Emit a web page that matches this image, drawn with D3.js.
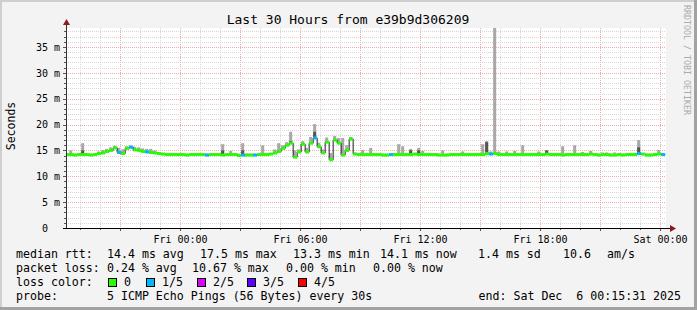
<!DOCTYPE html>
<html>
<head>
<meta charset="utf-8">
<script src="https://cdn.jsdelivr.net/npm/d3@7"></script>
<style>
  body { margin: 0; background: #f3f3f3; }
  text { font-family: "DejaVu Sans Mono", monospace; white-space: pre; }
</style>
</head>
<body>
<script>
// 12 minute steps, Thu 18:15:31 -> Sat 00:15:31 (UTC)
var startTime = Date.UTC(2025, 11, 4, 18, 15, 31),
    endTime = Date.UTC(2025, 11, 6, 0, 15, 31),
    stepMs = 12 * 60 * 1000;

// median rtt per step (ms)
var median = [
  14.2,14.2,14.1,14.2,14.2,14.2,14.1,14.2,
  14.4,14.5,14.8,15.0,15.5,14.6,14.4,15.4,15.6,15.1,15.0,14.8,14.7,14.6,14.5,14.4,
  14.3,14.2,14.2,14.2,14.2,14.2,14.1,14.2,14.2,14.2,
  14.2,14.1,14.2,14.2,14.2,14.1,14.2,14.2,14.2,14.0,
  14.1,14.1,14.1,14.1,14.2,14.2,14.2,14.3,
  14.5,14.8,15.4,16.0,16.4,13.7,14.7,16.2,14.7,16.4,17.4,15.7,14.5,16.6,13.2,17.0,16.4,14.1,15.0,17.2,14.3,
  14.2,14.2,14.2,14.2,14.2,14.2,14.1,14.1,14.2,14.2,
  14.2,14.2,14.2,14.2,14.3,14.2,14.2,14.2,14.2,14.2,
  14.1,14.1,14.1,14.2,14.2,14.2,14.2,14.2,14.2,14.2,
  14.2,14.2,14.4,14.3,14.4,14.2,14.2,14.2,14.2,14.2,
  14.2,14.2,14.2,14.2,14.2,14.2,14.2,14.3,14.2,14.2,
  14.2,14.1,14.2,14.2,14.2,14.2,14.2,14.2,14.3,14.2,
  14.1,14.2,14.2,14.1,14.1,14.2,14.1,14.2,14.2,14.2,
  14.4,14.3,14.1,14.1,14.2,14.3,14.2
];

// highest ping per step (ms) - outer smoke
var smokeTop = [
  14.4,15.0,14.4,14.4,16.4,14.4,14.4,14.4,
  14.8,15.1,15.3,15.6,15.9,15.5,15.2,15.8,16.0,15.7,15.6,15.4,15.3,15.3,15.0,14.7,
  14.5,14.4,14.4,14.4,14.4,14.4,14.4,14.4,14.4,14.4,
  14.4,14.4,14.4,14.4,14.4,16.2,14.4,14.9,14.4,14.4,
  16.4,14.4,14.4,14.4,14.4,16.0,14.4,14.5,
  15.2,16.4,16.0,16.6,18.6,15.0,15.2,16.8,15.5,17.6,20.1,16.5,15.2,17.5,14.5,17.8,17.4,17.4,16.0,17.6,14.6,
  14.4,15.1,14.4,15.5,14.4,14.4,14.4,14.4,14.4,14.4,
  16.2,15.8,14.4,15.3,14.4,15.5,14.9,14.4,14.4,14.4,
  14.4,15.0,14.4,14.4,14.4,14.4,14.8,14.4,14.4,14.4,
  14.4,16.2,16.8,14.8,45.0,14.8,14.4,14.8,14.4,14.9,
  14.4,16.0,14.4,14.4,14.4,14.8,14.4,15.0,14.4,14.4,
  14.4,15.8,14.4,14.4,16.0,14.4,14.7,14.4,14.9,14.4,
  14.4,14.6,14.6,14.4,14.6,14.4,14.4,14.4,14.4,14.4,
  17.0,14.4,14.4,14.4,14.4,15.1,14.4
];

// inner (darker) smoke, only where it shows
var darkSteps = [4, 12, 16, 39, 44, 56, 62, 65, 86, 88, 105, 120, 143];
var darkTop   = [15.0, 15.5, 15.6, 15.0, 15.0, 16.8, 18.6, 16.8, 15.0, 15.0, 16.6, 15.0, 15.6];

// steps with lost pings (out of 5)
var lossSteps = [13, 16, 20, 35, 44, 47, 62, 81, 106, 143, 149];
var lossCount = [1, 1, 1, 1, 1, 1, 1, 1, 1, 1, 1];

var lossColors = ["#26ff00", "#00b8ff", "#dd00ff", "#5e00ff", "#ff0000"];
var lossLabels = ["0", "1/5", "2/5", "3/5", "4/5"];
var yTicks = [0, 5, 10, 15, 20, 25, 30, 35];

var rttStats  = ["14.4 ms avg", "17.5 ms max", "13.3 ms min", "14.1 ms now", "1.4 ms sd", "10.6", "am/s"];
var lossStats = ["0.24 % avg", "10.67 % max", "0.00 % min", "0.00 % now"];

var W = 697, H = 310;
var plot = {left: 66, right: 666, top: 28, bottom: 228};

var svg = d3.select("body").append("svg")
    .attr("width", W).attr("height", H);

// frame
svg.append("rect").attr("width", W).attr("height", H).attr("fill", "#f3f3f3");
svg.append("path").attr("d", "M0,1H697M1,0V310").attr("stroke", "#cfcfcf").attr("stroke-width", 2);
svg.append("path").attr("d", "M0,308.5H697M695.5,0V310").attr("stroke", "#a2a2a2").attr("stroke-width", 3);

svg.append("rect")
    .attr("x", plot.left).attr("y", plot.top)
    .attr("width", plot.right - plot.left).attr("height", plot.bottom - plot.top)
    .attr("fill", "#fff");

var x = d3.scaleUtc().domain([startTime, endTime]).range([65.17, 665.17]);
var y = d3.scaleLinear().domain([0, 38.67]).range([plot.bottom, plot.top]);

// grid
var grid = svg.append("g");
d3.utcHour.range(new Date(startTime), new Date(endTime)).forEach(function(h){
    var px = Math.round(x(h)) + 0.5;
    var major = h.getUTCHours() % 3 == 0;
    grid.append("line")
        .attr("x1", px).attr("x2", px).attr("y1", plot.top).attr("y2", plot.bottom)
        .attr("stroke", major ? "#f5a8a8" : "#d6d6d6")
        .attr("stroke-dasharray", "1,1");
});
d3.range(1, 39).forEach(function(v){
    var py = Math.round(y(v)) + 0.5;
    grid.append("line")
        .attr("x1", plot.left).attr("x2", plot.right).attr("y1", py).attr("y2", py)
        .attr("stroke", v % 5 == 0 ? "#f5a8a8" : "#d6d6d6")
        .attr("stroke-dasharray", "1,1");
});

svg.append("clipPath").attr("id", "clip").append("rect")
    .attr("x", plot.left).attr("y", plot.top)
    .attr("width", plot.right - plot.left).attr("height", plot.bottom - plot.top);

var data = median.map(function(m, i){
    var k = lossSteps.indexOf(i);
    var d = darkSteps.indexOf(i);
    return {
        t0: startTime + i * stepMs,
        t1: startTime + (i + 1) * stepMs,
        median: m,
        top: smokeTop[i],
        dark: d >= 0 ? darkTop[d] : null,
        loss: k >= 0 ? lossCount[k] : 0
    };
});

var g = svg.append("g").attr("clip-path", "url(#clip)");

// smoke
g.selectAll(".smoke").data(data).enter().append("rect")
    .attr("x", d => x(d.t0))
    .attr("width", d => x(d.t1) - x(d.t0) - 1)
    .attr("y", d => y(d.top))
    .attr("height", d => Math.max(0, y(d.median) - y(d.top)))
    .attr("fill", "#a8a8a8");

g.selectAll(".dark").data(data.filter(d => d.dark != null)).enter().append("rect")
    .attr("x", d => x(d.t0))
    .attr("width", d => x(d.t1) - x(d.t0) - 1)
    .attr("y", d => y(d.dark))
    .attr("height", d => Math.max(0, y(d.median) - y(d.dark)))
    .attr("fill", "#555");

// median line
var stepPts = data.map(d => [x(d.t0), y(d.median)]);
stepPts.push([x(endTime), y(median[median.length - 1])]);
g.append("path")
    .datum(stepPts)
    .attr("fill", "none")
    .attr("stroke", "#202020")
    .attr("stroke-width", 1)
    .attr("d", d3.line().curve(d3.curveStepAfter));

// median colored by loss
g.selectAll(".med").data(data).enter().append("rect")
    .attr("x", d => x(d.t0))
    .attr("width", d => x(d.t1) - x(d.t0))
    .attr("y", d => y(d.median) - 1.5)
    .attr("height", 3)
    .attr("fill", d => lossColors[d.loss]);

// axes
var xAxis = svg.append("g")
    .attr("transform", "translate(0," + plot.bottom + ")")
    .call(d3.axisBottom(x)
        .ticks(d3.utcHour.every(6))
        .tickFormat(d3.utcFormat("%a %H:%M"))
        .tickSize(0).tickPadding(8));
xAxis.select(".domain").remove();
xAxis.selectAll("text").attr("font-size", 10).attr("fill", "#000")
    .style("font-family", "DejaVu Sans Mono");

var yAxis = svg.append("g")
    .attr("transform", "translate(" + plot.left + ",0)")
    .call(d3.axisLeft(y)
        .tickValues(yTicks)
        .tickFormat(v => v == 0 ? "0  " : v + " m")
        .tickSize(0).tickPadding(6));
yAxis.select(".domain").remove();
yAxis.selectAll("text").attr("font-size", 10).attr("fill", "#000")
    .style("font-family", "DejaVu Sans Mono");

// tick marks
d3.utcHour.range(new Date(startTime), new Date(endTime)).forEach(function(h){
    var px = Math.round(x(h)) + 0.5;
    svg.append("line").attr("x1", px).attr("x2", px)
        .attr("y1", plot.bottom).attr("y2", plot.bottom + (h.getUTCHours() % 3 == 0 ? 3 : 2))
        .attr("stroke", "#555");
});
d3.range(0, 39).forEach(function(v){
    var py = Math.round(y(v)) + 0.5;
    svg.append("line").attr("x1", plot.left - (v % 5 == 0 ? 3 : 2)).attr("x2", plot.left)
        .attr("y1", py).attr("y2", py).attr("stroke", "#555");
});

svg.append("line").attr("x1", plot.left + 0.5).attr("x2", plot.left + 0.5)
    .attr("y1", plot.bottom).attr("y2", 22).attr("stroke", "#333");
svg.append("line").attr("x1", 63).attr("x2", 671)
    .attr("y1", plot.bottom + 0.5).attr("y2", plot.bottom + 0.5).attr("stroke", "#000");
svg.append("path").attr("d", "M63,25L66.5,19L70,25Z").attr("fill", "#8b1a1a");
svg.append("path").attr("d", "M670,225L676,228.5L670,232Z").attr("fill", "#8b1a1a");

// titles
svg.append("text").attr("x", 348).attr("y", 24).attr("text-anchor", "middle")
    .attr("font-size", 13).text("Last 30 Hours from e39b9d306209");
svg.append("text").attr("transform", "translate(15,126) rotate(-90)")
    .attr("text-anchor", "middle").attr("font-size", 11.5).text("Seconds");
svg.append("text").attr("transform", "translate(684,5) rotate(90)")
    .attr("font-size", 8.3).attr("fill", "#aaa").text("RRDTOOL / TOBI OETIKER");

// legend
var leg = svg.append("g").attr("font-size", 11.6);
leg.append("text").attr("x", 16).attr("y", 258).text("median rtt:");
[107, 200, 293, 380, 478, 563, 607].forEach(function(px, i){
    leg.append("text").attr("x", px).attr("y", 258).text(rttStats[i]);
});
leg.append("text").attr("x", 16).attr("y", 272).text("packet loss:");
[107, 192, 286, 373].forEach(function(px, i){
    leg.append("text").attr("x", px).attr("y", 272).text(lossStats[i]);
});
leg.append("text").attr("x", 16).attr("y", 286).text("loss color:");
[108, 146, 197, 247, 298].forEach(function(px, i){
    leg.append("rect").attr("x", px + 0.5).attr("y", 278.5).attr("width", 8).attr("height", 8)
        .attr("fill", lossColors[i]).attr("stroke", "#000");
    leg.append("text").attr("x", px + 16).attr("y", 286).text(lossLabels[i]);
});
leg.append("text").attr("x", 16).attr("y", 300).text("probe:");
leg.append("text").attr("x", 107).attr("y", 300).text("5 ICMP Echo Pings (56 Bytes) every 30s");
leg.append("text").attr("x", 681).attr("y", 300).attr("text-anchor", "end")
    .text("end: Sat Dec  6 00:15:31 2025");
</script>
</body>
</html>
